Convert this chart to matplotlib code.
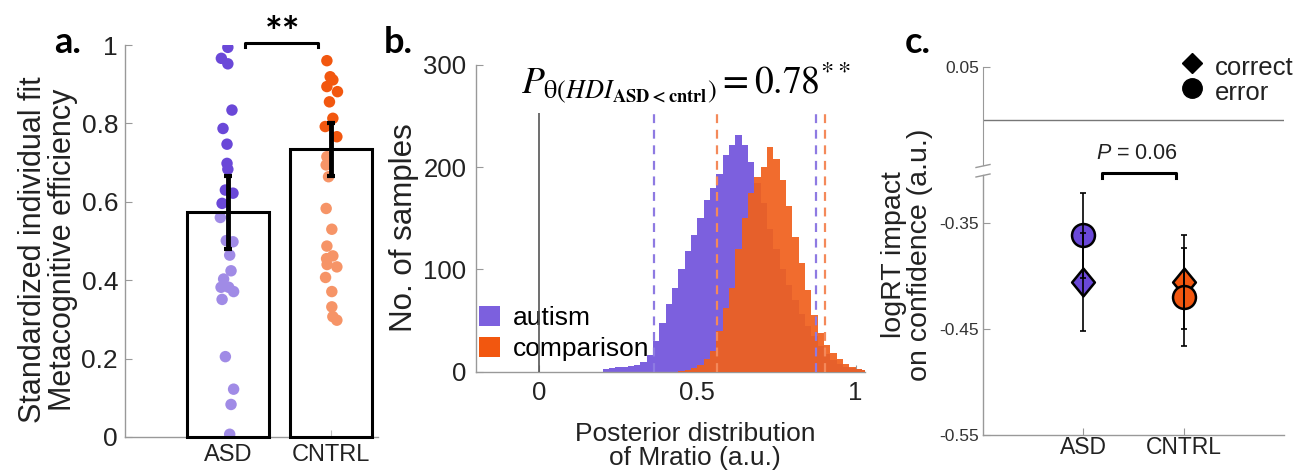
import matplotlib
matplotlib.use('Agg')
import matplotlib.pyplot as plt
import numpy as np
from matplotlib.patches import Patch
from matplotlib.lines import Line2D
from matplotlib.path import Path

plt.rcParams['font.family'] = ['Liberation Sans', 'DejaVu Sans']
plt.rcParams['mathtext.fontset'] = 'custom'
plt.rcParams['mathtext.it'] = 'Liberation Sans:italic'
plt.rcParams['mathtext.rm'] = 'Liberation Sans'
plt.rcParams['mathtext.bf'] = 'Liberation Sans:bold'

# ---------------- data ----------------
groups = ['ASD', 'CNTRL']

# panel a: individual Mratio values (with horizontal jitter offsets)
asd_vals = [0.994, 0.966, 0.952, 0.834, 0.787, 0.747, 0.698, 0.683, 0.630, 0.622,
            0.596, 0.560, 0.501, 0.498, 0.464, 0.424, 0.403, 0.382, 0.382, 0.371,
            0.351, 0.205, 0.122, 0.083, 0.007]
asd_jit = [0.00, -0.063, 0.00, 0.04, -0.047, -0.008, -0.008, 0.00, -0.024, 0.05,
           -0.056, -0.073, -0.015, 0.05, 0.018, 0.031, -0.041, -0.066, 0.008, 0.056,
           -0.056, -0.024, 0.056, 0.031, 0.018]
cntrl_vals = [0.960, 0.919, 0.911, 0.894, 0.881, 0.855, 0.813, 0.792, 0.766, 0.715,
              0.694, 0.664, 0.583, 0.530, 0.487, 0.462, 0.455, 0.440, 0.434, 0.407,
              0.371, 0.332, 0.307, 0.298]
cntrl_jit = [-0.037, -0.005, 0.021, -0.037, 0.066, -0.012, 0.021, -0.053, 0.06, -0.037,
             -0.044, -0.021, -0.044, 0.011, -0.037, 0.021, -0.04, -0.035, 0.06, -0.05,
             0.011, 0.011, 0.021, 0.06]
bar_means = [0.575, 0.734]
bar_lo = [0.480, 0.665]
bar_hi = [0.665, 0.800]

# panel b: posterior histograms (bin width 0.02 from 0.20 to 1.04)
bin_lo, bin_hi = 0.20, 1.04
autism_counts = [3, 4, 5, 5, 6, 7, 9, 16, 30, 48, 66, 82, 100, 118, 134, 150, 168, 180,
                 193, 212, 222, 232, 222, 205, 185, 165, 140, 120, 100, 85, 70, 56, 45,
                 35, 25, 17, 11, 8, 5, 4, 3, 2]
comparison_counts = [0, 0, 0, 0, 0, 0, 0, 0, 0, 0, 0, 0, 1, 2, 4, 7, 12, 20, 40, 62, 82,
                     120, 150, 175, 190, 200, 220, 208, 188, 162, 132, 106, 80, 55, 38,
                     26, 18, 12, 8, 5, 3, 2]
hdi_autism = [0.363, 0.875]
hdi_comparison = [0.561, 0.905]
hdi_line_top = 253

# panel c: logRT impact on confidence
correct_mean = [-0.406, -0.406]
correct_err = [0.046, 0.044]
error_mean = [-0.362, -0.420]
error_err = [0.040, 0.046]

# ---------------- style ----------------
PURPLE = '#6a48d8'
ORANGE = '#f2570f'
HIST_PURPLE = '#7c60de'
HIST_ORANGE = '#f0601c'
DASH_PURPLE = '#8e7ae2'
DASH_ORANGE = '#f4895a'
SPINE = '#999999'
TXT = '#222222'

W, H = 1316, 475
fig = plt.figure(figsize=(W / 100, H / 100), dpi=100)


def add_ax(l, t, r, b):
    return fig.add_axes([l / W, 1 - b / H, (r - l) / W, (b - t) / H])


def style_spines(ax):
    for s in ['top', 'right']:
        ax.spines[s].set_visible(False)
    for s in ['left', 'bottom']:
        ax.spines[s].set_color(SPINE)
        ax.spines[s].set_linewidth(1.0)


# ---------------- panel a ----------------
axA = add_ax(125, 45, 378, 437)
xpos = np.arange(1, len(groups) + 1)
axA.scatter(xpos[0] + np.array(asd_jit), asd_vals, s=68, color=PURPLE, edgecolors='none', zorder=2)
axA.scatter(xpos[1] + np.array(cntrl_jit), cntrl_vals, s=68, color=ORANGE, edgecolors='none', zorder=2)
axA.bar(xpos, bar_means, width=0.8, facecolor=(1, 1, 1, 0.37), edgecolor='black',
        linewidth=2.2, zorder=3, clip_on=False)
yerr = [np.array(bar_means) - np.array(bar_lo), np.array(bar_hi) - np.array(bar_means)]
axA.errorbar(xpos, bar_means, yerr=yerr, fmt='none', ecolor='black', elinewidth=3.5,
             capsize=3, capthick=3, zorder=4)
axA.set_xlim(0, 2.46)
axA.set_ylim(0, 1)
axA.set_yticks([0, 0.2, 0.4, 0.6, 0.8, 1])
axA.set_yticklabels(['0', '0.2', '0.4', '0.6', '0.8', '1'])
axA.set_xticks(xpos)
axA.set_xticklabels(groups)
axA.tick_params(axis='y', direction='in', length=5, labelsize=19, pad=5, colors=SPINE, labelcolor=TXT)
axA.tick_params(axis='x', direction='in', length=5, labelsize=17, pad=5, colors=SPINE, labelcolor=TXT)
style_spines(axA)
axA.plot([1.167, 1.167, 1.876, 1.876], [0.996, 1.006, 1.006, 0.996], color='black', lw=2.2,
         clip_on=False, zorder=5)
fig.text(283 / W, 1 - 47 / H, '**', fontsize=30, fontweight='bold', family='Lato',
         ha='center', va='baseline')
fig.text(48.5 / W, 1 - 250 / H, 'Standardized individual fit\nMetacognitive efficiency',
         rotation=90, ha='center', va='center', fontsize=22, linespacing=1.0, color=TXT)
fig.text(54 / W, 1 - 53 / H, 'a.', fontsize=26, fontweight='bold', family='Lato', va='baseline')

# ---------------- panel b ----------------
axB = add_ax(476, 65, 865, 371.7)
edges = np.linspace(bin_lo, bin_hi, len(autism_counts) + 1)
axB.stairs(autism_counts, edges, fill=True, color=HIST_PURPLE, zorder=2)
axB.stairs(comparison_counts, edges, fill=True, color=HIST_ORANGE, alpha=0.92, zorder=3)
axB.vlines(hdi_autism, 0, hdi_line_top, colors=DASH_PURPLE, linestyles=(0, (4, 3)), lw=1.6, zorder=4)
axB.vlines(hdi_comparison, 0, hdi_line_top, colors=DASH_ORANGE, linestyles=(0, (4, 3)), lw=1.6, zorder=4)
axB.vlines([0], 0, hdi_line_top, colors='#555555', lw=1.2, zorder=6)
axB.set_xlim(-0.2, 1.03)
axB.set_ylim(0, 300)
axB.set_xticks([0, 0.5, 1])
axB.set_xticklabels(['0', '0.5', '1'])
axB.set_yticks([0, 100, 200, 300])
axB.tick_params(axis='y', direction='in', length=5, labelsize=18.5, pad=7, colors=SPINE, labelcolor=TXT)
axB.tick_params(axis='x', direction='in', length=5, labelsize=18.5, pad=7, colors=SPINE, labelcolor=TXT)
style_spines(axB)
leg = axB.legend(handles=[Patch(facecolor=HIST_PURPLE, label='autism'),
                          Patch(facecolor=ORANGE, label='comparison')],
                 loc='upper left', bbox_to_anchor=(479 / W, 1 - 306 / H),
                 bbox_transform=fig.transFigure, frameon=False, fontsize=19,
                 handlelength=0.8, handleheight=0.8, handletextpad=0.5,
                 borderaxespad=0, borderpad=0, labelspacing=0.25)
leg.set_zorder(5)
fig.text(404 / W, 1 - 227.5 / H, 'No. of samples', rotation=90, ha='center', va='center',
         fontsize=22.5, color=TXT)
fig.text(695 / W, 1 - 446 / H, 'Posterior distribution\nof Mratio (a.u.)', ha='center',
         va='center', fontsize=19, linespacing=1.05, color=TXT)
fig.text(521 / W, 1 - 93 / H,
         r'$P_{\mathrm{\theta}(HDI_{\mathbf{ASD<cntrl}})}= 0.78^{**}$',
         fontsize=27, math_fontfamily='stix', ha='left', va='baseline')
fig.text(384 / W, 1 - 53 / H, 'b.', fontsize=26, fontweight='bold', family='Lato', va='baseline')

# ---------------- panel c ----------------
axC = add_ax(983, 175, 1284, 435)
axCt = add_ax(983, 67, 1284, 165)
diamond = Path([(0, 1), (0.82, 0), (0, -1), (-0.82, 0), (0, 1)],
               [Path.MOVETO, Path.LINETO, Path.LINETO, Path.LINETO, Path.CLOSEPOLY])
cols = [PURPLE, ORANGE]
for i in range(len(groups)):
    axC.plot(xpos[i], correct_mean[i], marker=diamond, ms=20, mfc=cols[i], mec='black',
             mew=1.8, ls='none', zorder=3)
for i in range(len(groups)):
    axC.plot(xpos[i], error_mean[i], marker='o', ms=16.5, mfc=cols[i], mec='black',
             mew=1.8, ls='none', zorder=4)
axC.errorbar(xpos, correct_mean, yerr=correct_err, fmt='none', ecolor='black',
             elinewidth=1.2, capsize=2.5, capthick=1.2, zorder=5)
axC.errorbar(xpos, error_mean, yerr=error_err, fmt='none', ecolor='black',
             elinewidth=1.2, capsize=2.5, capthick=1.2, zorder=5)
axC.set_xlim(0, 3)
axC.set_ylim(-0.55, -0.305)
axC.set_yticks([-0.55, -0.45, -0.35])
axC.set_yticklabels(['-0.55', '-0.45', '-0.35'])
axC.set_xticks(xpos)
axC.set_xticklabels(groups)
axC.tick_params(axis='y', direction='in', length=5, labelsize=12.5, pad=3, colors=SPINE, labelcolor='#333333')
axC.tick_params(axis='x', direction='in', length=5, labelsize=16.5, pad=1, colors=SPINE, labelcolor=TXT)
style_spines(axC)

axCt.set_xlim(0, 3)
axCt.set_ylim(-0.0425, 0.05)
axCt.axhline(0, color='#777777', lw=1.0)
for s in ['top', 'right', 'bottom']:
    axCt.spines[s].set_visible(False)
axCt.spines['left'].set_color(SPINE)
axCt.set_xticks([])
axCt.set_yticks([0.05])
axCt.set_yticklabels(['0.05'])
axCt.tick_params(axis='y', direction='in', length=5, labelsize=12.5, pad=3, colors=SPINE, labelcolor='#333333')
axCt.patch.set_alpha(0)

# break marks
for yb in (166, 175.5):
    fig.add_artist(Line2D([976 / W, 990 / W], [1 - (yb + 1.5) / H, 1 - (yb - 1.5) / H],
                          color=SPINE, lw=1.0))

# legend markers
axCt.plot([2.08], [0.0539], marker='D', ms=10, color='black', ls='none', clip_on=False)
axCt.plot([2.08], [0.0302], marker='o', ms=14, color='black', ls='none', clip_on=False)
axCt.text(2.312, 0.0425, 'correct', fontsize=18.5, va='baseline', ha='left', color=TXT)
axCt.text(2.312, 0.0189, 'error', fontsize=18.5, va='baseline', ha='left', color=TXT)

# significance bracket
axC.plot([1.183, 1.183, 1.924, 1.924], [-0.3078, -0.3034, -0.3034, -0.3078], color='black',
         lw=2.2, clip_on=False)
axCt.text(1.532, -0.0312, r'$\mathit{P}$ = 0.06', fontsize=15.5, ha='center', va='center',
          math_fontfamily='custom', color=TXT)

fig.text(907 / W, 1 - 255 / H, 'logRT impact\non confidence (a.u.)', rotation=90,
         ha='center', va='center', fontsize=20.5, linespacing=1.0, color=TXT)
fig.text(905 / W, 1 - 53 / H, 'c.', fontsize=26, fontweight='bold', family='Lato', va='baseline')

fig.savefig('out.png', dpi=100)
